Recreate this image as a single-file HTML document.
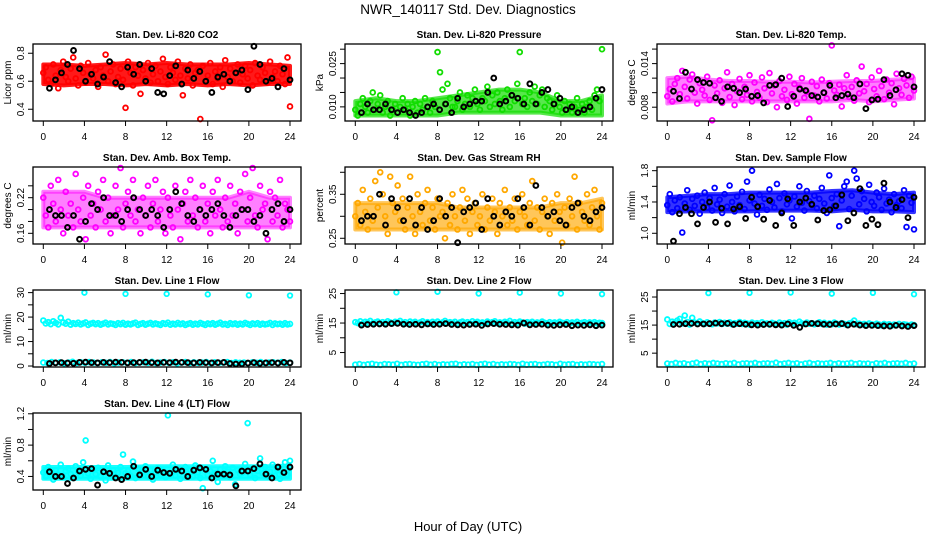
<!DOCTYPE html>
<html><head><meta charset="utf-8"><style>
html,body{margin:0;padding:0;background:#fff;}
svg{display:block;font-family:"Liberation Sans",Arial,sans-serif;}
</style></head><body>
<svg id="chart" width="936" height="540" viewBox="0 0 936 540" xmlns="http://www.w3.org/2000/svg">
<text x="468" y="14" font-size="13.5" text-anchor="middle">NWR_140117  Std. Dev. Diagnostics</text>
<text x="468" y="531" font-size="13" text-anchor="middle">Hour of Day (UTC)</text>
</svg>
<script>
const xTicks = [0,4,8,12,16,20,24];
const spikeHours = [4,8,12,16,20,24];
const envHours = [0,2,4,6,8,10,12,14,16,18,20,22,24];

const co2Red = [.66,.70,.61,.58,.72,.64,.55,.68,.74,.63,.60,.69,.77,.62,.57,.71,.66,.59,.73,.65,
.62,.68,.56,.70,.64,.79,.60,.67,.72,.58,.63,.69,.61,.41,.74,.66,.57,.70,.64,.51,
.68,.62,.73,.59,.65,.71,.60,.67,.76,.63,.58,.70,.66,.61,.74,.64,.50,.69,.62,.72,
.57,.66,.68,.33,.71,.60,.64,.73,.58,.67,.62,.70,.56,.75,.63,.69,.60,.66,.72,.59,
.65,.71,.62,.68,.57,.73,.64,.61,.70,.66,.59,.74,.63,.67,.60,.71,.65,.58,.77,.42];
const co2Black = [.55,.61,.66,.72,.82,.69,.60,.65,.58,.63,.74,.59,.56,.70,.65,.72,.60,.69,.52,.51,.64,.71,.58,.68,.62,.67,.60,.52,.63,.65,.60,.66,.68,.54,.85,.72,.60,.62,.56,.69,.61];
const co2Lo = [.58,.57,.58,.58,.57,.58,.57,.58,.57,.58,.57,.58,.58];
const co2Hi = [.72,.72,.71,.72,.73,.72,.73,.72,.72,.72,.73,.72,.71];

const presGreen = [.009,.007,.011,.013,.010,.008,.012,.015,.009,.011,.014,.008,.010,.012,.007,.009,.011,.008,.010,.013,
.009,.011,.007,.010,.012,.008,.011,.009,.013,.010,.008,.012,.010,.029,.022,.016,.011,.018,.013,.010,
.010,.012,.015,.009,.011,.014,.010,.013,.016,.011,.009,.013,.012,.017,.010,.014,.011,.015,.012,.009,
.013,.016,.010,.014,.012,.018,.029,.011,.013,.010,.015,.012,.017,.011,.014,.016,.010,.013,.012,.009,
.011,.014,.010,.008,.012,.009,.011,.008,.010,.013,.009,.011,.008,.010,.012,.009,.014,.016,.012,.030];
const presBlack = [.008,.011,.009,.009,.011,.009,.008,.009,.008,.007,.008,.010,.011,.009,.011,.008,.013,.010,.011,.012,.012,.015,.020,.011,.012,.014,.013,.011,.018,.011,.015,.016,.011,.013,.009,.010,.008,.009,.010,.013,.016];
const presLo = [.007,.007,.007,.007,.007,.008,.008,.008,.008,.008,.007,.007,.007];
const presHi = [.012,.013,.012,.012,.013,.014,.015,.016,.016,.015,.012,.012,.014];

const liTempMag = [.0095,.0105,.0088,.0112,.0120,.0098,.0130,.0108,.0092,.0118,.0125,.0100,.0085,.0113,.0104,.0096,.0122,.0090,.0062,.0110,
.0099,.0117,.0086,.0106,.0128,.0094,.0112,.0083,.0102,.0119,.0091,.0108,.0097,.0124,.0088,.0114,.0101,.0093,.0121,.0106,
.0087,.0127,.0099,.0110,.0080,.0116,.0095,.0104,.0090,.0122,.0098,.0112,.0085,.0107,.0120,.0093,.0101,.0064,.0115,.0096,
.0109,.0088,.0118,.0100,.0092,.0113,.0165,.0103,.0097,.0111,.0081,.0106,.0124,.0094,.0108,.0089,.0117,.0099,.0136,.0102,
.0112,.0087,.0121,.0105,.0095,.0130,.0109,.0091,.0118,.0100,.0113,.0084,.0126,.0106,.0097,.0119,.0110,.0093,.0122,.0103];
const liTempBlack = [.0102,.0092,.0128,.0105,.0118,.0114,.0113,.0093,.0088,.0108,.0106,.0100,.0105,.0095,.0096,.0086,.0110,.0111,.0120,.0081,.0095,.0105,.0103,.0096,.0094,.0100,.0110,.0093,.0096,.0098,.0093,.0112,.0078,.0090,.0091,.0118,.0096,.0104,.0126,.0124,.0108];
const tempLo = [.0085,.0088,.0088,.0088,.0088,.0088,.0088,.0088,.0088,.0090,.0088,.0090,.0092];
const tempHi = [.0120,.0122,.0118,.0116,.0116,.0115,.0115,.0114,.0115,.0116,.0116,.0118,.0120];

const ambMag = [.22,.19,.17,.24,.21,.18,.25,.20,.16,.23,.19,.21,.17,.26,.20,.18,.22,.15,.24,.19,
.21,.17,.23,.20,.25,.18,.22,.16,.19,.24,.20,.27,.17,.21,.23,.19,.25,.18,.20,.16,
.22,.19,.24,.17,.21,.25,.18,.20,.23,.16,.22,.19,.17,.24,.20,.15,.21,.23,.18,.25,
.19,.22,.17,.20,.24,.18,.21,.16,.23,.19,.25,.20,.17,.22,.18,.24,.19,.21,.16,.23,
.20,.26,.18,.22,.27,.19,.17,.24,.20,.21,.15,.23,.18,.22,.19,.25,.17,.21,.20,.18];
const ambBlack = [.20,.19,.19,.17,.19,.15,.18,.21,.20,.22,.19,.19,.18,.20,.22,.20,.19,.20,.19,.17,.20,.23,.21,.19,.18,.20,.19,.20,.21,.19,.17,.19,.20,.20,.18,.19,.16,.20,.21,.18,.20];
const ambLo = [.17,.17,.17,.17,.17,.17,.17,.17,.17,.17,.17,.17,.17];
const ambHi = [.23,.23,.23,.22,.22,.22,.22,.22,.22,.22,.23,.22,.22];

const rhOrange = [.30,.33,.28,.36,.31,.27,.34,.29,.38,.32,.40,.35,.30,.26,.39,.33,.31,.37,.29,.34,
.27,.32,.39,.30,.26,.35,.31,.28,.33,.36,.29,.32,.27,.34,.30,.31,.25,.33,.28,.35,
.30,.27,.32,.36,.29,.34,.26,.31,.33,.28,.30,.35,.27,.32,.29,.34,.31,.26,.33,.30,
.36,.28,.32,.29,.34,.27,.31,.35,.30,.28,.33,.38,.29,.32,.27,.31,.34,.30,.26,.33,
.29,.35,.31,.24,.32,.28,.34,.30,.39,.27,.33,.31,.29,.35,.28,.32,.36,.30,.27,.33];
const rhBlack = [.29,.30,.30,.35,.28,.34,.32,.29,.34,.28,.32,.27,.29,.34,.30,.32,.24,.31,.32,.33,.27,.34,.30,.28,.31,.30,.34,.32,.28,.37,.32,.30,.31,.29,.28,.32,.33,.30,.29,.31,.32];
const rhLo = [.27,.27,.27,.27,.27,.27,.27,.27,.27,.27,.27,.27,.27];
const rhHi = [.33,.33,.33,.33,.33,.32,.32,.32,.32,.32,.33,.33,.34];

const flowBlue = [1.36,1.50,1.27,1.42,1.32,1.46,1.01,1.38,1.55,1.30,1.44,1.35,1.48,1.25,1.40,1.52,1.33,1.45,1.29,1.58,
1.37,1.43,1.26,1.50,1.34,1.61,1.40,1.28,1.47,1.36,1.53,1.31,1.66,1.42,1.80,1.38,1.24,1.49,1.35,1.44,
1.30,1.56,1.40,1.33,1.63,1.45,1.28,1.51,1.37,1.42,1.19,1.47,1.34,1.60,1.39,1.29,1.54,1.41,1.36,1.48,
1.32,1.44,1.58,1.38,1.26,1.74,1.45,1.35,1.50,1.09,1.42,1.60,1.66,1.31,1.48,1.80,1.70,1.37,1.54,1.44,
1.28,1.62,1.40,1.35,1.52,1.46,1.30,1.57,1.38,1.43,1.27,1.50,1.36,1.41,1.32,1.55,1.08,1.48,1.39,1.05];
const flowBlack = [0.90,1.25,1.33,1.25,1.12,1.33,1.40,1.14,1.32,1.12,1.31,1.34,1.19,1.46,1.34,1.18,1.42,1.10,1.26,1.44,1.10,1.40,1.45,1.37,1.17,1.29,1.30,1.35,1.49,1.16,1.26,1.57,1.10,1.18,1.11,1.64,1.40,1.33,1.43,1.20,1.46];
const flowLo = [1.27,1.28,1.28,1.28,1.28,1.29,1.29,1.29,1.28,1.30,1.28,1.28,1.27];
const flowHi = [1.46,1.48,1.50,1.50,1.52,1.52,1.52,1.52,1.54,1.55,1.52,1.50,1.52];

const line1High = [18.6,17.4,17.9,17.1,18.3,17.6,17.0,19.7,17.8,17.3,18.1,16.9,17.5,17.2,17.7,17.0,17.4,17.8,16.8,17.3,
17.6,17.1,17.5,16.9,17.3,17.7,17.0,17.4,17.2,16.8,17.5,17.1,17.6,16.9,17.3,17.0,17.4,17.7,16.8,17.2,
17.5,16.9,17.3,17.6,17.0,17.4,17.1,16.8,17.5,17.2,17.7,16.9,17.3,17.0,17.6,17.1,17.4,16.8,17.2,17.5,
16.9,17.3,17.0,17.6,17.2,16.8,17.4,17.1,17.5,16.9,17.3,17.7,17.0,17.2,16.8,17.5,17.1,17.4,16.9,17.3,
17.0,17.6,17.2,16.8,17.4,17.1,17.5,16.9,17.3,17.0,17.2,17.6,16.8,17.4,17.1,17.3,16.9,17.5,17.0,17.2];
const line1Low = [1.4,1.2,1.6,1.3,1.5,1.1,1.4,1.7,1.2,1.5,1.3,1.6,1.4,1.2,1.5,1.3,1.6,1.1,1.4,1.5,
1.3,1.6,1.2,1.4,1.5,1.3,1.7,1.2,1.4,1.6,1.3,1.5,1.1,1.4,1.6,1.2,1.5,1.3,1.4,1.6,
1.2,1.5,1.3,1.4,1.6,1.2,1.5,1.3,1.4,1.1,1.5,1.3,1.6,1.2,1.4,1.5,1.3,1.6,1.2,1.4];
const line1Spikes = [30.0,29.5,29.5,29.3,28.9,28.8];
const line1Black = [1.0,1.3,1.4,1.2,1.1,1.5,1.6,1.4,1.3,1.5,1.4,1.6,1.5,1.3,1.4,1.5,1.6,1.4,1.3,1.5,1.4,1.6,1.5,1.4,1.3,1.5,1.4,1.3,1.4,1.5,1.0,0.8,0.9,1.2,1.4,1.1,1.3,1.4,1.2,1.5,1.3];

const line2High = [15.3,15.0,15.6,14.8,15.4,15.1,15.7,14.9,15.2,15.5,14.8,15.3,15.0,15.6,15.2,14.9,15.4,15.1,15.7,15.0,
15.3,14.8,15.5,15.1,15.4,14.9,15.2,15.6,15.0,15.3,14.8,15.4,15.1,15.5,14.9,15.2,15.7,15.0,15.3,15.1,
15.4,14.8,15.2,15.5,15.0,15.3,14.9,15.6,15.1,15.4,15.0,15.2,14.8,15.5,15.1,15.3,15.6,14.9,15.2,15.0,
15.4,15.1,15.7,14.9,15.3,15.0,15.5,15.2,14.8,15.3,15.1,15.4,14.9,15.2,15.0,15.5,15.1,14.8,15.3,15.0,
15.2,14.9,15.4,15.1,15.0,15.3,14.8,15.2,15.0,15.4,14.9,15.1,15.3,14.8,15.2,15.0,15.3,14.9,15.1,15.0];
const line2Low = [0.9,1.1,0.8,1.0,1.2,0.9,0.8,1.1,1.0,0.9,1.2,0.8,1.0,1.1,0.9,0.8,1.0,1.2,0.9,1.1,
0.8,1.0,0.9,1.1,1.2,0.8,1.0,0.9,1.1,0.8,1.0,1.2,0.9,1.1,0.8,1.0,0.9,1.1,1.0,0.8,
1.2,0.9,1.0,1.1,0.8,0.9,1.1,1.0,0.8,1.2,0.9,1.0,1.1,0.8,1.0,0.9,1.1,1.0,0.9,1.1];
const line2Spikes = [25.4,25.6,25.0,25.3,25.0,24.8];
const line2Black = [14.3,14.5,14.6,14.7,14.6,14.8,14.9,14.6,14.5,14.6,14.4,14.7,14.5,14.6,14.8,14.5,14.4,14.3,14.5,14.6,14.2,14.7,14.8,14.6,14.5,14.4,14.3,15.0,14.4,14.5,14.6,14.3,14.2,14.4,14.5,14.1,14.3,14.2,14.4,14.1,14.3];

const line3High = [17.0,15.4,16.2,15.8,16.6,17.2,15.6,18.4,16.1,15.2,17.6,15.9,15.5,16.3,15.7,15.4,16.0,15.6,15.3,15.9,
15.6,16.1,15.4,15.8,15.5,16.0,15.3,15.7,15.5,16.1,15.4,15.8,15.6,15.2,15.9,15.5,15.7,15.3,16.0,15.4,
15.6,15.2,15.8,15.5,15.3,15.9,15.4,15.7,15.2,16.0,15.5,15.8,15.3,16.2,15.6,15.4,15.9,15.5,15.7,15.3,
15.6,16.0,15.4,15.8,15.2,15.6,15.3,15.9,15.5,15.2,15.7,15.4,15.1,15.6,15.8,16.6,15.3,15.5,15.2,15.4,
15.0,15.6,15.3,15.1,15.5,15.2,14.9,15.4,15.1,15.3,14.8,15.2,15.0,15.4,14.9,15.3,15.1,14.8,15.2,15.0];
const line3Low = [1.3,1.1,1.5,1.2,1.4,1.0,1.3,1.6,1.1,1.4,1.2,1.5,1.3,1.1,1.4,1.2,1.5,1.0,1.3,1.4,
1.2,1.5,1.1,1.3,1.4,1.2,1.6,1.1,1.3,1.5,1.2,1.4,1.0,1.3,1.5,1.1,1.4,1.2,1.3,1.5,
1.1,1.4,1.2,1.3,1.5,1.1,1.4,1.2,1.3,1.0,1.4,1.2,1.5,1.1,1.3,1.4,1.2,1.5,1.1,1.3];
const line3Spikes = [26.4,26.5,26.6,26.2,26.5,26.0];
const line3Black = [15.2,15.3,15.5,15.6,15.4,15.4,15.5,15.7,15.5,15.6,15.2,15.5,15.3,15.1,15.0,15.2,15.3,15.1,15.0,15.4,14.9,14.2,15.4,15.6,15.5,15.3,15.2,15.4,15.5,15.0,15.3,15.0,14.8,14.9,14.8,14.7,14.6,14.9,14.7,14.5,14.8];

const line4Cyan = [.45,.40,.52,.44,.36,.48,.42,.55,.39,.47,.50,.43,.38,.53,.46,.41,.58,.86,.44,.37,
.49,.43,.51,.40,.46,.35,.54,.42,.48,.39,.45,.52,.68,.44,.47,.41,.59,.38,.50,.43,
.46,.53,.40,.48,.36,.45,.51,.42,.47,.39,1.18,.44,.55,.41,.49,.37,.46,.52,.43,.48,
.40,.54,.45,.38,.25,.50,.42,.47,.60,.44,.33,.49,.41,.53,.46,.39,.51,.30,.48,.43,
.45,.56,1.08,.42,.50,.38,.47,.63,.44,.52,.40,.46,.55,.41,.48,.37,.45,.58,.42,.60];
const line4Black = [.46,.40,.40,.31,.38,.47,.49,.50,.29,.46,.44,.38,.36,.40,.53,.42,.49,.40,.48,.45,.44,.49,.47,.40,.48,.51,.49,.38,.43,.43,.42,.28,.47,.47,.50,.56,.43,.38,.52,.45,.52];
const l4Lo = [.37,.37,.37,.37,.37,.37,.37,.37,.37,.37,.37,.37,.37];
const l4Hi = [.52,.52,.52,.52,.52,.53,.53,.53,.53,.53,.53,.53,.54];

const panels = [
 {name:'co2',title:'Stan. Dev. Li-820 CO2',ylab:'Licor ppm',col:0,row:0,ymin:0.316,ymax:0.866,ticks:[0.4,0.6,0.8],labels:['0.4','0.6','0.8'],color:'#ff0000',op:0.9,series:[co2Red],black:co2Black,lo:co2Lo,hi:co2Hi},
 {name:'pressure',title:'Stan. Dev. Li-820 Pressure',ylab:'kPa',col:1,row:0,ymin:0.0051,ymax:0.0318,ticks:[0.010,0.015,0.020,0.025,0.030],labels:['0.010','','','0.025',''],color:'#11dd00',op:0.7,series:[presGreen],black:presBlack,lo:presLo,hi:presHi},
 {name:'li820-temp',title:'Stan. Dev. Li-820 Temp.',ylab:'degrees C',col:2,row:0,ymin:0.0061,ymax:0.0167,ticks:[0.008,0.010,0.012,0.014,0.016],labels:['0.008','','','0.014',''],color:'#ff00ff',op:0.5,series:[liTempMag],black:liTempBlack,lo:tempLo,hi:tempHi},
 {name:'amb-box-temp',title:'Stan. Dev. Amb. Box Temp.',ylab:'degrees C',col:0,row:1,ymin:0.142,ymax:0.2717,ticks:[0.16,0.18,0.20,0.22,0.24],labels:['0.16','','','0.22',''],color:'#ff00ff',op:0.5,series:[ambMag],black:ambBlack,lo:ambLo,hi:ambHi},
 {name:'gas-stream-rh',title:'Stan. Dev. Gas Stream RH',ylab:'percent',col:1,row:1,ymin:0.237,ymax:0.412,ticks:[0.25,0.30,0.35,0.40],labels:['0.25','','0.35',''],color:'#ffa800',op:0.65,series:[rhOrange],black:rhBlack,lo:rhLo,hi:rhHi},
 {name:'sample-flow',title:'Stan. Dev. Sample Flow',ylab:'ml/min',col:2,row:1,ymin:0.863,ymax:1.847,ticks:[1.0,1.2,1.4,1.6,1.8],labels:['1.0','','1.4','','1.8'],color:'#0000ff',op:0.8,series:[flowBlue],black:flowBlack,lo:flowLo,hi:flowHi},
 {name:'line1-flow',title:'Stan. Dev. Line 1 Flow',ylab:'ml/min',col:0,row:2,ymin:-0.4,ymax:31.07,ticks:[0,5,10,15,20,25,30],labels:['0','','10','','20','','30'],color:'#00ffff',series:[line1High,line1Low],spikes:line1Spikes,black:line1Black},
 {name:'line2-flow',title:'Stan. Dev. Line 2 Flow',ylab:'ml/min',col:1,row:2,ymin:0.1,ymax:26.2,ticks:[5,10,15,20,25],labels:['5','','15','','25'],color:'#00ffff',series:[line2High,line2Low],spikes:line2Spikes,black:line2Black},
 {name:'line3-flow',title:'Stan. Dev. Line 3 Flow',ylab:'ml/min',col:2,row:2,ymin:0.07,ymax:27.5,ticks:[5,10,15,20,25],labels:['5','','15','','25'],color:'#00ffff',series:[line3High,line3Low],spikes:line3Spikes,black:line3Black},
 {name:'line4-flow',title:'Stan. Dev. Line 4 (LT) Flow',ylab:'ml/min',col:0,row:3,ymin:0.227,ymax:1.21,ticks:[0.4,0.6,0.8,1.0,1.2],labels:['0.4','','0.8','','1.2'],color:'#00ffff',op:0.9,series:[line4Cyan],black:line4Black,lo:l4Lo,hi:l4Hi}
];

const NS='http://www.w3.org/2000/svg';
const svg=document.getElementById('chart');
function mk(tag,attrs,parent){const e=document.createElementNS(NS,tag);for(const k in attrs)e.setAttribute(k,attrs[k]);(parent||svg).appendChild(e);return e;}

panels.forEach(p=>{
  const left=33+312*p.col, right=left+268, top=44+123*p.row, bottom=top+77;
  const x0=left+10.3, x1=left+257;
  const xs=h=>x0+(x1-x0)*h/24;
  const ys=v=>bottom-(v-p.ymin)/(p.ymax-p.ymin)*(bottom-top);
  const g=mk('g',{});
  
  
  const t=mk('text',{x:(left+right)/2,y:top-6,'font-size':10,'font-weight':'bold','text-anchor':'middle'},g);
  t.textContent=p.title;
  
  
  const yl=mk('text',{x:0,y:0,'font-size':10,'text-anchor':'middle',transform:`translate(${left-22},${(top+bottom)/2}) rotate(-90)`},g);
  yl.textContent=p.ylab;
  
  
  if(p.lo){
    const ptsStr=envHours.map((h,i)=>xs(h)+','+ys(p.hi[i])).concat(envHours.slice().reverse().map((h,j)=>xs(h)+','+ys(p.lo[envHours.length-1-j]))).join(' ');
    const band=mk('polygon',{points:ptsStr,fill:p.color,'fill-opacity':p.op,stroke:p.color,'stroke-width':4,'stroke-opacity':p.op,'stroke-linejoin':'round'},g);
    
    
  }
  const pts=mk('g',{fill:'none','stroke-width':1.5},g);
  
  
  p.series.forEach(arr=>{
    arr.forEach((v,i)=>{
      const c=mk('circle',{cx:xs(i*24/(arr.length-1)),cy:ys(v),r:2.4,stroke:p.color,'stroke-width':1.8},pts);
      
      
    });
  });
  if(p.spikes){p.spikes.forEach((v,i)=>{
    const c=mk('circle',{cx:xs(spikeHours[i]),cy:ys(v),r:2.3,stroke:p.color,'stroke-width':1.8},pts);
    
    
  });}
  p.black.forEach((v,i)=>{
    const h=0.6+i*(23.4/(p.black.length-1));
    const c=mk('circle',{cx:xs(h),cy:ys(v),r:2.4,stroke:'#000','stroke-width':2},pts);
    
    
  });
  const box=mk('rect',{x:left,y:top,width:right-left,height:bottom-top,fill:'none',stroke:'#000','stroke-width':1.3},g);
  
  
  const ax=mk('g',{stroke:'#000','stroke-width':1},g);
  
  
  xTicks.forEach(h=>{
    mk('line',{x1:xs(h),x2:xs(h),y1:bottom,y2:bottom+5},ax);
    const tl=mk('text',{x:xs(h),y:bottom+19,'font-size':10,'text-anchor':'middle',stroke:'none'},ax);
    tl.textContent=h;
    
    
  });
  const ay=mk('g',{stroke:'#000','stroke-width':1},g);
  
  
  p.ticks.forEach((v,i)=>{
    mk('line',{x1:left-5,x2:left,y1:ys(v),y2:ys(v)},ay);
    if(p.labels[i]){
      const tl=mk('text',{x:0,y:0,'font-size':10,'text-anchor':'middle',stroke:'none',transform:`translate(${left-9},${ys(v)}) rotate(-90)`},ay);
      tl.textContent=p.labels[i];
      
      
    }
  });
});
</script>
</body></html>
